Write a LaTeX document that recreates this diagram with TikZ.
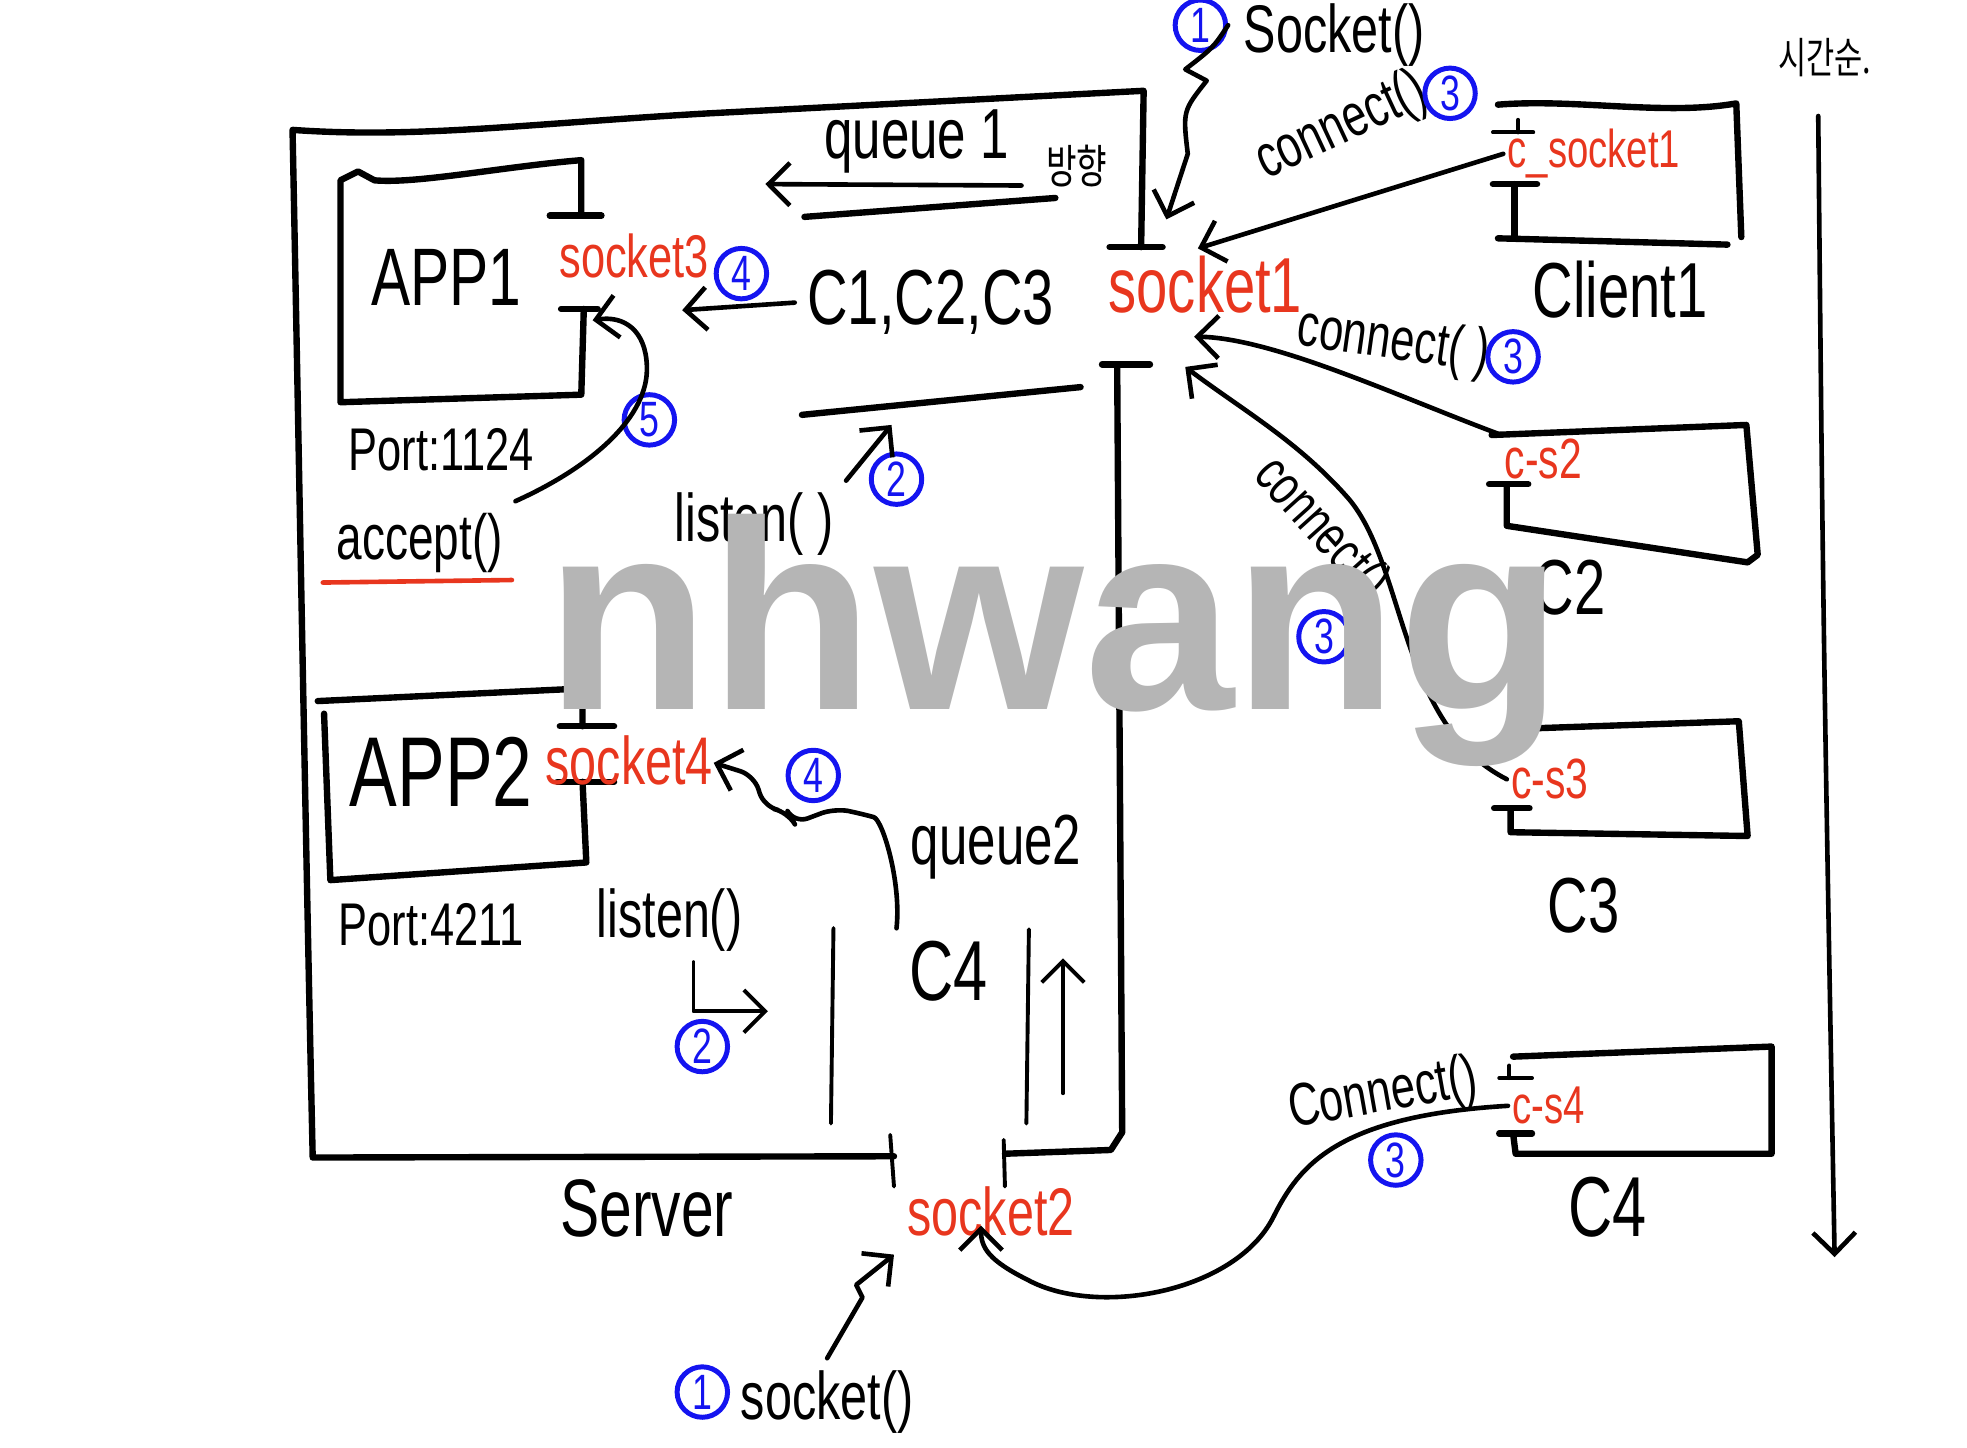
\documentclass[tikz,border=0pt]{standalone}
\usepackage{fontspec}
\setmainfont{Liberation Sans}[FakeStretch=0.72]
\newfontfamily\kofont{Noto Sans CJK KR}[FakeStretch=0.72]
\newfontfamily\markfont{Liberation Sans}
\usetikzlibrary{arrows.meta}
\definecolor{PenRed}{HTML}{E8361E}
\definecolor{PenBlue}{HTML}{1414F0}
\definecolor{MarkGray}{HTML}{B5B5B5}
\newcommand{\penfs}[1]{\fontsize{#1}{#1}\selectfont}

\begin{document}
\begin{tikzpicture}[x=0.0125cm, y=-0.0125cm,
    box/.style={line width=1.8pt, line cap=round, line join=round},
    thin box/.style={line width=1.1pt, line cap=round},
    call/.style={-{Straight Barb[length=6pt, width=12pt]}, line width=1.3pt, line cap=round, line join=round},
    sock/.style={text=PenRed, inner sep=1pt},
    num/.style={circle, draw=PenBlue, text=PenBlue, line width=1.4pt, minimum size=0.5cm, inner sep=0pt, font=\penfs{14}}]
    \useasboundingbox (0,0) rectangle (1560,1148);

    % Server
    \draw[box] (709,917) -- (248,918) .. controls (242,650) and (236,300) .. (232,103) .. controls (330,110) and (420,98) .. (560,90) -- (907,72) -- (905,196);
    \draw[box] (880,196) -- (922,196);
    \draw[box] (874,289) -- (912,289);
    \draw[box] (886,289) -- (890,898) -- (881,912) -- (797,915);
    \draw[thin box] (706,900) -- (709,941);
    \draw[thin box] (796,904) -- (797,941);
    \draw[box] (638,172) -- (837,157);
    \draw[box] (636,329) -- (857,307);
    \draw[thin box] (661,736) -- (659,891);
    \draw[thin box] (816,737) -- (814,891);

    \draw[box] (461,171) -- (461,127) .. controls (400,132) and (330,146) .. (297,143) -- (284,136) -- (270,143) -- (270,319) -- (461,313) -- (463,245);
    \draw[box] (436,171) -- (477,171);
    \draw[box] (445,245) -- (474,245);
    \draw[box] (462,576) -- (462,546) -- (252,556);
    \draw[box] (257,566) -- (262,698) -- (465,684) -- (462,620);
    \draw[box] (444,576) -- (487,576);
    \draw[box] (442,620) -- (487,620);

    \node[font=\penfs{23}] (app1) at (354,220) {APP1};
    \node[sock, font=\penfs{17}] (sock3) at (503,203) {socket3};
    \node[num] (n4a) at (588,217) {4};
    \node[font=\penfs{22}] (c123) at (738,240) {C1,C2,C3};
    \node[sock, font=\penfs{22}] (sock1) at (956,226) {socket1};
    \node[font=\penfs{17}] (port1) at (350,357) {Port:1124};
    \node[font=\penfs{18}] (accept) at (333,431) {accept()};
    \draw[PenRed, line width=1.3pt, line cap=round] (256,462) -- (406,460);
    \node[num] (n5) at (515,333) {5};
    \node[font=\penfs{19}] (listen1) at (598,416) {listen( )};
    \node[num] (n2a) at (711,380) {2};
    \node[font=\penfs{20}] (queue1) at (727,112) {queue 1};
    \node[font=\kofont\penfs{13}] (dir) at (854,132) {방향};

    \node[font=\penfs{28}] (app2) at (350,612) {APP2};
    \node[sock, font=\penfs{19}] (sock4) at (499,603) {socket4};
    \node[num] (n4b) at (645,615) {4};
    \node[font=\penfs{20}] (queue2) at (790,672) {queue2};
    \node[font=\penfs{17}] (port2) at (342,733) {Port:4211};
    \node[font=\penfs{19}] (listen2) at (531,730) {listen()};
    \node[num] (n2b) at (557,830) {2};
    \node[font=\penfs{24}] (c4in) at (752,770) {C4};
    \node[font=\penfs{23}] (server) at (513,958) {Server};
    \node[sock, font=\penfs{19}] (sock2) at (786,961) {socket2};
    \node[num] (n1b) at (557,1104) {1};
    \node[font=\penfs{19}] (sockcall2) at (656,1112) {socket()};
    \node[num] (n1a) at (952,20) {1};
    \node[font=\penfs{19}] (sockcall1) at (1058,28) {Socket()};

    % Clients
    \draw[box] (1188,83) .. controls (1250,78) and (1320,92) .. (1377,82) -- (1381,188);
    \draw[box] (1370,194) -- (1188,189);
    \draw[thin box] (1184,105) -- (1216,105);
    \draw[thin box] (1204,95) -- (1204,105);
    \draw[box] (1184,146) -- (1219,146);
    \draw[box] (1201,146) -- (1201,189);
    \draw[box] (1183,345) -- (1385,337) -- (1394,440) -- (1386,446) -- (1195,417) -- (1195,384);
    \draw[box] (1181,384) -- (1212,384);
    \draw[box] (1205,578) -- (1379,572) -- (1386,663) -- (1198,660) -- (1198,641);
    \draw[box] (1185,641) -- (1213,641);
    \draw[box] (1200,838) -- (1405,830) -- (1405,915) -- (1202,915) -- (1200,899);
    \draw[box] (1189,899) -- (1215,899);
    \draw[thin box] (1189,855) -- (1215,855);
    \draw[thin box] (1197,845) -- (1197,855);

    \node[sock, font=\penfs{15}] (csock1) at (1264,122) {c\_socket1};
    \node[font=\penfs{22}] (client1) at (1285,230) {Client1};
    \node[font=\penfs{17}, rotate=25] (conn1) at (1064,101) {connect()};
    \node[num] (n3a) at (1150,74) {3};
    \node[sock, font=\penfs{16}] (cs2) at (1224,364) {c-s2};
    \node[font=\penfs{22}] (c2) at (1245,466) {C2};
    \node[font=\penfs{17}, rotate=-8] (conn2) at (1105,272) {connect( )};
    \node[num] (n3b) at (1200,283) {3};
    \node[sock, font=\penfs{16}] (cs3) at (1229,618) {c-s3};
    \node[font=\penfs{22}] (c3) at (1256,718) {C3};
    \node[font=\penfs{16}, rotate=-48] (conn3) at (1047,420) {connect()};
    \node[num] (n3c) at (1050,505) {3};
    \node[sock, font=\penfs{15}] (cs4) at (1228,877) {c-s4};
    \node[font=\penfs{24}] (c4) at (1275,957) {C4};
    \node[font=\penfs{17}, rotate=10] (conn4) at (1097,869) {Connect()};
    \node[num] (n3d) at (1107,920) {3};
    \node[font=\kofont\penfs{12}] (time) at (1447,46) {시간순.};

    \coordinate (s1top) at (925,174);
    \coordinate (s1a) at (950,197);
    \coordinate (s1b) at (947,267);
    \coordinate (s1c) at (940,291);
    \coordinate (s3a) at (541,246);
    \coordinate (s3b) at (470,254);
    \coordinate (s4in) at (566,605);
    \coordinate (s2a) at (709,995);
    \coordinate (s2b) at (778,972);
    \coordinate (q1dir) at (607,146);
    \coordinate (q1low) at (707,337);
    \coordinate (q2low) at (843,867);
    \coordinate (q2top) at (843,760);
    \coordinate (l2a) at (550,763);
    \coordinate (l2b) at (609,802);
    \coordinate (tstart) at (1442,92);
    \coordinate (tend) at (1455,997);

    \draw[call] (n1a.east) .. controls (962,38) .. (940,55) -- (957,64) .. controls (938,88) .. (942,122) -- (s1top);
    \draw[call] (csock1.west) -- (s1a);
    \draw[call] (cs2.north west) .. controls (1110,315) and (1010,268) .. (s1b);
    \draw[call] (cs3.west) .. controls (1110,575) and (1115,450) .. (1070,396) .. controls (1030,350) and (985,325) .. (s1c);
    \draw[call] (cs4.west) .. controls (1060,885) and (1030,925) .. (1010,965) .. controls (980,1025) and (870,1045) .. (815,1015) .. controls (785,1000) and (778,990) .. (s2b);
    \draw[call] (sockcall2.north) -- (684,1029) -- (679,1019) -- (s2a);
    \draw[call] (accept.north east) .. controls (470,370) and (515,330) .. (513,290) .. controls (512,262) and (495,250) .. (s3b);
    \draw[call] (c123.west) -- (s3a);
    \draw[call] (listen1.north east) -- (q1low);
    \draw[call] (queue1.south east) -- (q1dir);
    \draw[call, rounded corners=4pt] (c4in.north west) .. controls (715,700) and (700,650) .. (682,645) -- (662,641) -- (630,653) -- (625,644) -- (606,640) -- (598,615) -- (s4in);
    \draw[call, line width=1.1pt] (l2a) |- (l2b);
    \draw[call, line width=1.1pt] (q2low) -- (q2top);
    \draw[call] (tstart) .. controls (1446,500) .. (tend);

    \node[text=MarkGray, font=\markfont\bfseries\penfs{76}, anchor=base] (mark) at (836,563) {nhwang};
\end{tikzpicture}
\end{document}
